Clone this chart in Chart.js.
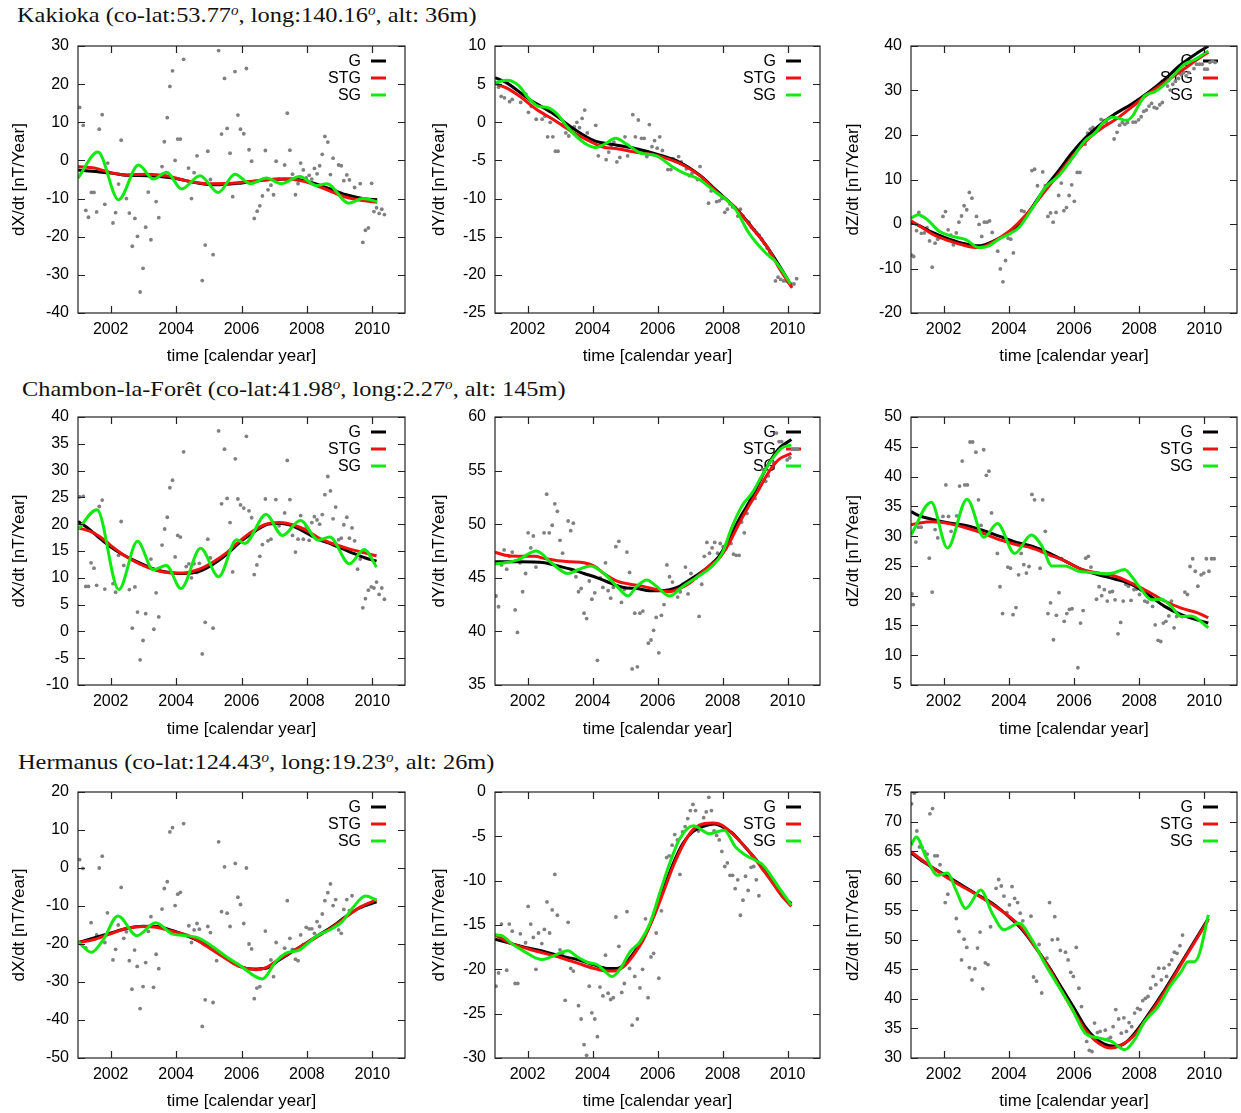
<!DOCTYPE html>
<html>
<head>
<meta charset="utf-8">
<script src="https://cdn.jsdelivr.net/npm/chart.js@4/dist/chart.umd.min.js"></script>
<style>
html,body{margin:0;padding:0;background:#fff;width:1241px;height:1113px;overflow:hidden;position:relative}
.station{position:absolute;font-family:"Liberation Serif","DejaVu Serif",serif;font-size:22px;line-height:22px;color:#111;white-space:nowrap;transform-origin:0 0}
.station sup{font-style:italic;font-size:0.62em;vertical-align:0.55em;line-height:0}
canvas{position:absolute}
</style>
</head>
<body>
<div class="station" id="t0" style="left:17px;top:4px">Kakioka (co-lat:53.77<sup>o</sup>, long:140.16<sup>o</sup>, alt: 36m)</div>
<div class="station" id="t1" style="left:22px;top:378px">Chambon-la-Forêt (co-lat:41.98<sup>o</sup>, long:2.27<sup>o</sup>, alt: 145m)</div>
<div class="station" id="t2" style="left:18px;top:751px">Hermanus (co-lat:124.43<sup>o</sup>, long:19.23<sup>o</sup>, alt: 26m)</div>
<script>
// ---- shared axis labels / legend ----
const yearTicks = [2002, 2004, 2006, 2008, 2010];
const seriesNames = ['G', 'STG', 'SG'];
const seriesColors = ['#000000', '#f01010', '#12e812'];

// ---- Kakioka dX/dt ----
const kakX_ticks = [-40, -30, -20, -10, 0, 10, 20, 30];
const kakX_obs = [[2001.05,13.9],[2001.16,9.2],[2001.24,-13.1],[2001.32,-14.9],[2001.41,-8.4],[2001.49,-8.4],[2001.57,-13.5],[2001.65,8.2],[2001.74,12.0],[2001.82,-11.5],[2001.91,-0.7],[2002.07,-16.4],[2002.15,-13.7],[2002.24,-6.2],[2002.32,5.3],[2002.48,-10.0],[2002.57,-13.8],[2002.66,-22.5],[2002.74,-15.2],[2002.82,-19.9],[2002.90,-34.5],[2002.99,-28.3],[2003.07,-17.5],[2003.15,-8.3],[2003.23,-20.8],[2003.39,-10.8],[2003.47,-15.0],[2003.57,-1.6],[2003.64,4.9],[2003.73,11.2],[2003.81,19.4],[2003.89,23.5],[2003.97,0.0],[2004.05,5.6],[2004.13,5.6],[2004.23,26.5],[2004.38,-2.0],[2004.47,-10.0],[2004.55,-3.2],[2004.64,1.2],[2004.80,-31.5],[2004.89,-22.2],[2004.97,2.4],[2005.05,-5.0],[2005.13,-24.7],[2005.30,28.8],[2005.39,6.9],[2005.48,21.5],[2005.56,8.4],[2005.65,1.9],[2005.73,-9.5],[2005.80,23.3],[2005.89,11.9],[2005.97,8.2],[2006.07,7.0],[2006.15,24.1],[2006.23,2.8],[2006.31,-0.2],[2006.39,-15.2],[2006.48,-13.3],[2006.56,-11.9],[2006.64,-9.3],[2006.73,2.6],[2006.81,-7.7],[2006.90,-6.5],[2006.98,-9.0],[2007.06,-0.2],[2007.15,-4.9],[2007.32,-1.2],[2007.40,12.4],[2007.48,2.7],[2007.56,-3.6],[2007.65,-9.0],[2007.73,-6.1],[2007.81,-0.7],[2007.89,-2.5],[2007.98,-4.6],[2008.07,-3.9],[2008.15,-4.9],[2008.23,-2.1],[2008.31,-3.5],[2008.39,-1.4],[2008.47,1.6],[2008.55,6.3],[2008.64,4.8],[2008.72,-3.7],[2008.80,0.6],[2008.97,-1.2],[2009.05,-1.4],[2009.13,-5.3],[2009.22,-3.8],[2009.30,-5.1],[2009.46,-7.1],[2009.63,-6.1],[2009.71,-21.5],[2009.79,-18.3],[2009.88,-17.7],[2009.98,-6.0],[2010.05,-13.4],[2010.13,-12.4],[2010.21,-13.9],[2010.29,-12.8],[2010.37,-14.2]];
const kakX_G = [[2001.0,-2.5],[2002.0,-3.3],[2002.5,-3.9],[2003.1,-4.0],[2003.9,-4.6],[2004.7,-6.0],[2005.2,-6.4],[2005.9,-6.0],[2006.7,-5.1],[2007.5,-4.9],[2008.0,-5.5],[2008.5,-6.8],[2009.2,-9.0],[2009.8,-10.1],[2010.15,-10.3]];
const kakX_STG = [[2001.0,-1.6],[2001.5,-2.0],[2002.0,-3.2],[2002.5,-3.8],[2003.1,-3.6],[2003.7,-4.0],[2004.3,-5.3],[2005.0,-6.1],[2005.7,-6.0],[2006.5,-5.3],[2007.3,-4.9],[2007.9,-5.5],[2008.5,-7.3],[2009.1,-9.4],[2009.7,-10.5],[2010.15,-11.0]];
const kakX_SG = [[2001.0,-4.6],[2001.61,2.2],[2002.24,-10.3],[2002.85,-1.2],[2003.31,-4.9],[2003.71,-3.1],[2004.17,-7.5],[2004.73,-4.0],[2005.29,-8.4],[2005.8,-3.6],[2006.27,-6.1],[2006.76,-4.6],[2007.22,-6.1],[2007.78,-4.2],[2008.29,-6.6],[2008.61,-6.1],[2009.28,-11.2],[2009.71,-10.0],[2010.15,-10.8]];

// ---- Kakioka dY/dt ----
const kakY_ticks = [-25, -20, -15, -10, -5, 0, 5, 10];
const kakY_obs = [[2001.11,4.6],[2001.19,3.4],[2001.29,3.2],[2001.45,2.7],[2001.53,3.0],[2001.79,2.6],[2001.87,3.8],[2001.95,3.7],[2002.03,1.3],[2002.12,2.1],[2002.27,0.4],[2002.45,0.4],[2002.54,0.8],[2002.62,-1.9],[2002.70,0.0],[2002.78,-1.9],[2002.86,-3.8],[2002.94,-3.8],[2003.10,-0.2],[2003.18,-1.4],[2003.27,-1.8],[2003.36,-0.9],[2003.44,-0.6],[2003.52,0.0],[2003.60,-0.7],[2003.68,0.5],[2003.76,1.6],[2003.84,-1.4],[2004.10,-0.4],[2004.18,-4.4],[2004.26,-3.0],[2004.42,-4.9],[2004.50,-3.9],[2004.58,-3.0],[2004.66,-2.6],[2004.75,-5.2],[2004.84,-4.6],[2005.00,-1.9],[2005.08,-4.4],[2005.24,1.0],[2005.32,-1.9],[2005.41,0.3],[2005.51,-2.1],[2005.59,-2.1],[2005.67,-4.5],[2005.75,-0.3],[2005.83,-3.2],[2005.91,-2.4],[2005.99,-3.4],[2006.07,-1.9],[2006.15,-3.7],[2006.32,-6.2],[2006.41,-6.2],[2006.49,-4.8],[2006.65,-4.5],[2006.73,-5.2],[2006.81,-5.6],[2006.89,-6.1],[2006.98,-7.0],[2007.06,-6.7],[2007.23,-7.5],[2007.31,-5.8],[2007.57,-10.6],[2007.65,-9.0],[2007.73,-8.9],[2007.82,-10.4],[2007.90,-10.3],[2007.98,-10.0],[2008.07,-11.8],[2008.15,-11.4],[2008.23,-10.7],[2008.31,-11.1],[2008.39,-11.2],[2008.47,-12.3],[2008.55,-11.4],[2008.63,-12.3],[2008.81,-13.1],[2008.89,-13.8],[2008.97,-14.1],[2009.05,-14.5],[2009.13,-14.8],[2009.21,-15.3],[2009.29,-15.9],[2009.38,-16.5],[2009.46,-17.1],[2009.54,-17.7],[2009.63,-20.8],[2009.71,-20.3],[2009.79,-20.6],[2009.88,-20.8],[2009.96,-20.8],[2010.04,-21.0],[2010.12,-21.2],[2010.20,-21.2],[2010.28,-20.5]];
const kakY_G = [[2001.0,5.85],[2001.35,5.2],[2002.02,3.1],[2002.73,1.3],[2003.44,-0.9],[2004.05,-2.4],[2004.76,-3.0],[2005.38,-3.5],[2006.0,-4.2],[2006.71,-5.3],[2007.32,-7.0],[2007.83,-9.0],[2008.44,-11.4],[2008.84,-13.4],[2009.35,-16.2],[2009.75,-18.8],[2010.1,-21.3]];
const kakY_STG = [[2001.0,5.1],[2001.35,4.5],[2001.76,3.4],[2002.27,1.7],[2002.78,0.4],[2003.28,-1.0],[2003.79,-2.2],[2004.29,-3.2],[2004.8,-3.5],[2005.3,-3.9],[2005.81,-4.2],[2006.32,-4.8],[2006.83,-5.7],[2007.33,-7.1],[2007.84,-9.2],[2008.35,-11.0],[2008.86,-13.6],[2009.37,-16.3],[2009.77,-19.3],[2010.14,-21.7]];
const kakY_SG = [[2001.0,5.2],[2001.38,5.5],[2001.73,4.8],[2002.02,3.2],[2002.33,2.1],[2002.63,1.9],[2002.93,1.0],[2003.24,-0.7],[2003.75,-2.7],[2004.1,-3.3],[2004.36,-2.9],[2004.71,-2.1],[2005.06,-2.9],[2005.46,-4.0],[2005.97,-4.4],[2006.48,-5.9],[2006.78,-6.6],[2007.29,-7.5],[2007.8,-9.2],[2008.1,-10.1],[2008.4,-11.4],[2008.81,-14.5],[2009.32,-17.1],[2009.62,-18.2],[2010.1,-21.2]];

// ---- Kakioka dZ/dt ----
const kakZ_ticks = [-20, -10, 0, 10, 20, 30, 40];
const kakZ_obs = [[2001.02,-7.0],[2001.08,-7.3],[2001.17,-1.5],[2001.24,2.6],[2001.32,-2.1],[2001.41,-2.0],[2001.49,-0.8],[2001.57,-3.8],[2001.65,-9.7],[2001.74,-4.3],[2001.82,-3.4],[2001.90,-3.0],[2001.98,1.7],[2002.06,2.8],[2002.14,-1.3],[2002.22,-2.5],[2002.30,-4.7],[2002.39,-2.0],[2002.47,0.4],[2002.55,1.8],[2002.63,4.1],[2002.71,3.2],[2002.79,7.1],[2002.87,5.8],[2003.01,1.7],[2003.09,-0.1],[2003.17,-2.8],[2003.25,0.4],[2003.33,0.4],[2003.41,0.7],[2003.49,-1.9],[2003.66,-6.1],[2003.74,-10.1],[2003.82,-13.0],[2003.90,-8.2],[2003.98,-3.2],[2004.06,-3.4],[2004.14,-6.5],[2004.39,3.0],[2004.47,2.8],[2004.55,1.9],[2004.71,12.0],[2004.79,12.3],[2004.88,8.6],[2005.04,11.7],[2005.12,8.6],[2005.20,1.7],[2005.28,2.5],[2005.36,0.4],[2005.45,2.6],[2005.53,6.4],[2005.61,9.2],[2005.69,3.0],[2005.77,3.7],[2005.85,6.4],[2005.93,8.8],[2006.01,5.1],[2006.10,11.6],[2006.18,11.6],[2006.34,17.9],[2006.42,20.4],[2006.50,21.3],[2006.58,21.7],[2006.75,21.3],[2006.83,23.5],[2006.91,23.2],[2006.99,22.9],[2007.23,19.1],[2007.32,20.6],[2007.40,22.2],[2007.48,22.8],[2007.56,22.4],[2007.64,22.8],[2007.81,22.9],[2007.89,22.9],[2007.98,23.4],[2008.06,24.1],[2008.14,25.3],[2008.22,25.6],[2008.30,26.5],[2008.38,27.1],[2008.46,26.2],[2008.54,26.0],[2008.63,26.8],[2008.71,27.3],[2008.87,31.0],[2008.95,30.1],[2009.03,31.4],[2009.11,32.1],[2009.20,32.7],[2009.28,33.6],[2009.36,34.0],[2009.44,33.3],[2009.52,34.0],[2009.68,34.9],[2009.76,35.9],[2009.85,35.9],[2009.93,35.9],[2010.01,34.8],[2010.09,34.8],[2010.17,36.3],[2010.25,36.6],[2010.33,36.3]];
const kakZ_G = [[2001.0,0.4],[2001.26,-0.4],[2001.66,-1.9],[2002.17,-3.4],[2002.68,-4.5],[2003.09,-4.9],[2003.39,-4.3],[2003.7,-3.2],[2004.1,-1.5],[2004.41,0.7],[2004.71,3.7],[2005.12,8.2],[2005.53,12.0],[2005.93,15.9],[2006.34,19.3],[2006.75,22.0],[2007.25,24.7],[2007.76,26.9],[2008.27,29.5],[2008.78,32.5],[2009.29,35.9],[2009.79,38.5],[2010.12,40.0]];
const kakZ_STG = [[2001.0,0.7],[2001.26,-0.4],[2001.66,-2.3],[2002.17,-3.8],[2002.68,-4.9],[2002.99,-5.3],[2003.29,-4.9],[2003.7,-3.2],[2004.1,-1.1],[2004.51,1.9],[2004.92,5.6],[2005.32,9.3],[2005.73,13.1],[2006.14,16.8],[2006.54,19.8],[2006.95,22.0],[2007.36,23.9],[2007.76,26.2],[2008.27,29.2],[2008.78,31.8],[2009.29,34.4],[2009.79,37.0],[2010.12,38.6]];
const kakZ_SG = [[2001.0,1.3],[2001.22,2.1],[2001.48,1.1],[2001.88,-1.7],[2002.28,-2.8],[2002.68,-3.5],[2003.09,-5.3],[2003.39,-4.9],[2003.7,-3.4],[2004.0,-2.3],[2004.31,-0.8],[2004.71,3.4],[2005.12,8.2],[2005.53,10.8],[2005.93,14.6],[2006.34,18.7],[2006.64,20.4],[2006.9,22.8],[2007.2,24.0],[2007.4,23.7],[2007.6,23.3],[2007.8,24.3],[2007.97,26.5],[2008.17,28.8],[2008.47,29.7],[2008.78,31.4],[2009.08,33.6],[2009.39,35.9],[2009.69,36.9],[2010.12,38.9]];

// ---- Chambon-la-Foret dX/dt ----
const chaX_ticks = [-10, -5, 0, 5, 10, 15, 20, 25, 30, 35, 40];
const chaX_obs = [[2001.05,25.1],[2001.16,25.2],[2001.24,8.4],[2001.32,8.4],[2001.40,12.8],[2001.49,11.8],[2001.57,8.6],[2001.65,23.3],[2001.74,24.5],[2001.82,7.9],[2002.07,8.9],[2002.15,7.3],[2002.24,14.2],[2002.32,20.5],[2002.40,12.3],[2002.57,7.8],[2002.66,0.6],[2002.74,8.3],[2002.82,3.6],[2002.90,-5.3],[2002.99,-1.7],[2003.07,3.3],[2003.23,13.5],[2003.32,0.4],[2003.39,7.2],[2003.47,2.7],[2003.57,16.1],[2003.65,19.1],[2003.73,21.3],[2003.81,26.8],[2003.89,28.2],[2003.97,13.9],[2004.05,17.9],[2004.13,17.6],[2004.23,33.5],[2004.31,12.1],[2004.39,12.6],[2004.47,10.0],[2004.55,12.6],[2004.64,11.0],[2004.71,12.7],[2004.80,-4.2],[2004.89,1.7],[2004.97,17.2],[2005.05,13.7],[2005.13,0.6],[2005.30,37.4],[2005.39,23.8],[2005.48,34.0],[2005.56,24.8],[2005.65,20.3],[2005.73,11.1],[2005.81,32.2],[2005.89,24.7],[2005.97,23.6],[2006.07,23.0],[2006.15,36.4],[2006.23,22.5],[2006.31,21.2],[2006.39,10.6],[2006.47,12.4],[2006.56,14.0],[2006.64,16.2],[2006.73,24.7],[2006.81,16.9],[2006.90,17.2],[2007.05,24.6],[2007.15,19.7],[2007.32,22.1],[2007.40,31.9],[2007.48,24.6],[2007.56,17.9],[2007.65,14.8],[2007.73,17.2],[2007.81,21.6],[2007.89,17.2],[2007.98,19.5],[2008.07,17.0],[2008.15,20.3],[2008.23,21.4],[2008.31,20.8],[2008.39,20.0],[2008.47,21.8],[2008.55,25.5],[2008.64,28.9],[2008.72,26.2],[2008.80,21.0],[2008.88,23.2],[2008.97,17.1],[2009.05,17.4],[2009.13,19.9],[2009.22,21.3],[2009.30,17.4],[2009.38,19.3],[2009.46,16.9],[2009.55,11.6],[2009.63,13.5],[2009.71,4.4],[2009.79,6.1],[2009.88,7.7],[2009.97,8.3],[2010.05,8.1],[2010.13,9.2],[2010.21,6.9],[2010.29,8.1],[2010.37,6.0]];
const chaX_G = [[2001.0,20.5],[2001.36,19.0],[2001.66,17.4],[2001.97,15.9],[2002.38,14.3],[2002.88,12.8],[2003.39,11.5],[2003.9,10.9],[2004.21,10.8],[2004.71,11.2],[2005.12,12.5],[2005.53,14.3],[2005.93,16.5],[2006.34,18.4],[2006.75,19.9],[2007.15,20.2],[2007.46,19.9],[2007.76,19.1],[2008.27,17.4],[2008.78,16.2],[2009.29,14.9],[2009.79,13.7],[2010.13,13.1]];
const chaX_STG = [[2001.0,19.3],[2001.36,18.7],[2001.66,17.7],[2001.97,16.2],[2002.38,14.3],[2002.88,12.6],[2003.39,11.4],[2003.9,10.9],[2004.21,10.9],[2004.71,11.6],[2005.12,12.9],[2005.53,14.6],[2005.93,16.8],[2006.34,18.7],[2006.75,20.0],[2007.15,20.3],[2007.56,19.9],[2007.97,18.9],[2008.37,17.4],[2008.78,16.4],[2009.29,15.4],[2009.79,14.6],[2010.13,14.1]];
const chaX_SG = [[2001.0,19.0],[2001.58,22.7],[2002.25,7.8],[2002.82,16.8],[2003.3,11.5],[2003.7,12.3],[2004.15,8.0],[2004.75,15.5],[2005.3,10.2],[2005.85,17.1],[2006.1,16.4],[2006.75,21.8],[2007.25,17.9],[2007.8,20.7],[2008.35,17.0],[2008.7,17.6],[2009.3,12.6],[2009.75,15.3],[2010.13,12.0]];

// ---- Chambon-la-Foret dY/dt ----
const chaY_ticks = [35, 40, 45, 50, 55, 60];
const chaY_obs = [[2001.03,43.3],[2001.11,42.3],[2001.20,46.2],[2001.28,47.6],[2001.36,45.8],[2001.44,47.0],[2001.53,47.4],[2001.62,42.0],[2001.69,39.9],[2001.77,46.4],[2001.85,43.7],[2001.94,45.4],[2002.02,49.2],[2002.10,47.8],[2002.18,48.9],[2002.26,46.0],[2002.51,49.2],[2002.59,52.8],[2002.67,49.2],[2002.76,49.9],[2002.84,51.9],[2002.92,51.2],[2003.00,48.5],[2003.08,47.3],[2003.25,50.3],[2003.33,49.4],[2003.41,50.1],[2003.49,45.1],[2003.57,43.7],[2003.65,44.0],[2003.74,41.7],[2003.82,41.2],[2003.90,44.7],[2003.98,43.0],[2004.07,43.6],[2004.15,37.3],[2004.24,45.0],[2004.32,44.1],[2004.40,46.4],[2004.48,43.8],[2004.56,43.1],[2004.64,44.1],[2004.72,47.9],[2004.81,48.4],[2004.89,42.7],[2004.98,43.9],[2005.06,47.4],[2005.14,45.5],[2005.22,36.5],[2005.30,41.7],[2005.38,36.7],[2005.46,41.7],[2005.55,41.9],[2005.72,38.9],[2005.80,39.2],[2005.88,40.1],[2005.96,41.3],[2006.04,38.0],[2006.12,41.5],[2006.20,42.5],[2006.29,46.2],[2006.37,45.1],[2006.46,44.6],[2006.54,44.0],[2006.62,43.2],[2006.70,43.7],[2006.78,44.4],[2006.86,46.0],[2006.94,43.5],[2007.03,45.4],[2007.11,45.0],[2007.19,45.0],[2007.28,41.4],[2007.36,44.4],[2007.44,47.0],[2007.52,48.3],[2007.60,47.3],[2007.68,47.8],[2007.76,48.3],[2007.85,47.3],[2007.93,48.2],[2008.02,47.9],[2008.10,47.7],[2008.18,48.2],[2008.26,48.2],[2008.34,47.2],[2008.42,47.1],[2008.51,47.1],[2008.59,50.2],[2008.67,49.2],[2008.75,51.0],[2008.84,52.1],[2008.92,52.6],[2009.00,52.4],[2009.08,53.2],[2009.17,54.2],[2009.25,55.1],[2009.33,54.0],[2009.41,54.5],[2009.49,56.0],[2009.57,55.7],[2009.66,58.5],[2009.74,57.7],[2009.82,57.7],[2009.99,56.0],[2010.07,56.2],[2010.15,57.0],[2010.23,57.0],[2010.31,57.0]];
const chaY_G = [[2001.0,46.5],[2001.72,46.5],[2002.53,46.4],[2002.93,46.1],[2003.34,45.8],[2003.74,45.4],[2004.15,45.0],[2004.55,44.5],[2004.96,44.1],[2005.36,44.0],[2005.77,43.8],[2006.07,43.8],[2006.37,43.9],[2006.68,44.2],[2006.98,44.8],[2007.29,45.4],[2007.59,46.1],[2007.89,47.0],[2008.2,48.6],[2008.5,50.4],[2008.81,52.0],[2009.11,53.8],[2009.41,55.6],[2009.72,57.0],[2010.12,57.9]];
const chaY_STG = [[2001.0,47.4],[2001.31,47.1],[2001.72,47.0],[2002.22,47.0],[2002.53,46.8],[2002.93,46.6],[2003.34,46.5],[2003.74,46.4],[2004.05,46.1],[2004.35,45.4],[2004.75,44.7],[2005.16,44.4],[2005.56,44.2],[2005.97,43.9],[2006.37,43.7],[2006.68,44.0],[2006.98,44.5],[2007.29,45.3],[2007.59,46.1],[2007.89,46.8],[2008.2,48.2],[2008.5,50.0],[2008.81,51.7],[2009.11,53.2],[2009.41,54.8],[2009.72,56.0],[2010.12,56.6]];
const chaY_SG = [[2001.0,46.3],[2001.31,46.4],[2001.72,46.7],[2002.27,47.5],[2002.73,46.4],[2003.24,45.4],[2003.59,45.8],[2003.94,46.1],[2004.35,45.4],[2004.75,44.2],[2005.09,43.3],[2005.36,44.2],[2005.67,44.8],[2005.97,44.2],[2006.37,43.3],[2006.78,44.2],[2007.08,44.8],[2007.39,45.4],[2007.69,46.1],[2007.99,47.3],[2008.3,49.8],[2008.6,51.7],[2008.91,52.9],[2009.21,54.5],[2009.51,56.0],[2009.82,57.1],[2010.12,57.4]];

// ---- Chambon-la-Foret dZ/dt ----
const chaZ_ticks = [5, 10, 15, 20, 25, 30, 35, 40, 45, 50];
const chaZ_obs = [[2001.03,20.3],[2001.07,18.5],[2001.15,29.0],[2001.23,31.5],[2001.31,31.5],[2001.56,26.3],[2001.65,20.6],[2001.74,31.1],[2001.82,29.7],[2001.98,33.3],[2002.07,38.6],[2002.15,33.3],[2002.23,30.8],[2002.40,33.4],[2002.49,38.4],[2002.57,42.6],[2002.65,38.6],[2002.73,38.6],[2002.81,45.8],[2002.89,45.8],[2002.99,44.1],[2003.07,36.1],[2003.15,31.8],[2003.23,44.5],[2003.31,40.2],[2003.39,40.9],[2003.47,33.9],[2003.65,27.1],[2003.73,21.5],[2003.81,17.0],[2003.97,24.8],[2004.05,24.6],[2004.13,16.8],[2004.22,18.0],[2004.30,23.5],[2004.38,27.1],[2004.46,25.2],[2004.54,23.8],[2004.62,24.9],[2004.71,37.0],[2004.79,36.1],[2004.96,24.6],[2005.04,36.1],[2005.12,30.8],[2005.20,17.0],[2005.28,18.8],[2005.37,12.6],[2005.46,16.7],[2005.54,20.5],[2005.62,26.2],[2005.70,15.7],[2005.78,17.0],[2005.86,17.7],[2005.94,17.8],[2006.12,7.9],[2006.20,15.4],[2006.28,17.5],[2006.36,26.3],[2006.44,26.6],[2006.52,24.8],[2006.69,19.4],[2006.77,21.5],[2006.85,20.0],[2006.93,21.0],[2007.02,19.1],[2007.10,20.6],[2007.18,20.7],[2007.26,19.3],[2007.35,13.6],[2007.43,15.5],[2007.51,19.1],[2007.59,21.9],[2007.67,21.6],[2007.75,19.2],[2007.84,21.0],[2007.92,21.1],[2008.01,20.2],[2008.09,21.0],[2008.17,19.1],[2008.25,18.9],[2008.33,20.2],[2008.41,18.2],[2008.49,15.1],[2008.58,12.5],[2008.66,12.3],[2008.74,15.4],[2008.82,15.7],[2008.91,16.6],[2008.99,19.1],[2009.07,14.6],[2009.15,16.5],[2009.32,16.5],[2009.40,20.6],[2009.48,20.2],[2009.56,24.9],[2009.64,26.2],[2009.72,24.1],[2009.80,21.6],[2009.90,23.5],[2009.98,23.8],[2010.06,26.2],[2010.14,24.1],[2010.22,26.2],[2010.30,26.2]];
const chaZ_G = [[2001.0,34.1],[2001.26,33.4],[2001.66,32.8],[2002.17,32.2],[2002.68,31.8],[2003.19,31.0],[2003.7,30.0],[2004.21,29.0],[2004.71,28.3],[2005.22,27.2],[2005.73,25.8],[2006.24,24.4],[2006.75,23.5],[2007.25,22.8],[2007.76,21.9],[2008.27,20.2],[2008.78,18.2],[2009.29,16.8],[2009.79,15.9],[2010.12,15.4]];
const chaZ_STG = [[2001.0,31.9],[2001.26,32.2],[2001.66,32.4],[2002.17,32.1],[2002.68,31.4],[2003.19,30.5],[2003.7,29.4],[2004.21,28.6],[2004.71,28.0],[2005.22,26.9],[2005.73,25.8],[2006.24,24.4],[2006.75,23.8],[2007.25,23.3],[2007.76,22.1],[2008.27,20.7],[2008.78,19.1],[2009.29,17.9],[2009.79,17.1],[2010.12,16.3]];
const chaZ_SG = [[2001.0,30.2],[2001.62,35.7],[2002.12,28.0],[2002.72,36.2],[2003.24,29.8],[2003.65,32.1],[2004.18,27.1],[2004.69,30.2],[2005.02,28.3],[2005.32,25.0],[2005.73,25.0],[2006.14,24.1],[2006.54,23.9],[2006.95,23.7],[2007.2,23.8],[2007.55,24.4],[2007.8,23.0],[2008.07,21.0],[2008.37,19.3],[2008.68,19.4],[2008.98,18.2],[2009.29,16.5],[2009.59,16.6],[2010.12,14.6]];

// ---- Hermanus dX/dt ----
const herX_ticks = [-50, -40, -30, -20, -10, 0, 10, 20];
const herX_obs = [[2001.05,2.2],[2001.15,-0.1],[2001.24,-21.0],[2001.40,-14.4],[2001.57,-17.6],[2001.65,0.0],[2001.74,3.1],[2001.82,-19.6],[2001.90,-11.8],[2001.98,-17.2],[2002.07,-24.2],[2002.15,-21.4],[2002.23,-15.0],[2002.32,-5.1],[2002.40,-18.5],[2002.48,-16.8],[2002.57,-24.4],[2002.65,-31.9],[2002.73,-21.6],[2002.81,-25.9],[2002.90,-37.0],[2002.99,-31.2],[2003.07,-24.9],[2003.15,-16.7],[2003.23,-12.8],[2003.31,-31.4],[2003.39,-22.7],[2003.47,-26.5],[2003.57,-10.8],[2003.64,-5.4],[2003.73,-3.6],[2003.81,9.5],[2003.89,10.6],[2003.97,-9.9],[2004.05,-6.9],[2004.13,-6.4],[2004.23,11.7],[2004.39,-15.2],[2004.47,-19.6],[2004.55,-16.3],[2004.64,-14.6],[2004.71,-16.1],[2004.80,-41.7],[2004.89,-34.7],[2004.97,-15.4],[2005.05,-17.0],[2005.13,-35.4],[2005.24,-24.4],[2005.30,6.9],[2005.39,-11.5],[2005.48,0.3],[2005.56,-11.9],[2005.65,-15.4],[2005.73,-24.9],[2005.81,1.2],[2005.89,-7.7],[2005.97,-9.6],[2006.07,-14.6],[2006.15,0.0],[2006.23,-20.0],[2006.31,-21.3],[2006.39,-34.4],[2006.47,-31.6],[2006.56,-31.2],[2006.73,-16.6],[2006.90,-24.2],[2006.98,-28.6],[2007.06,-19.6],[2007.22,-23.3],[2007.32,-21.1],[2007.40,-8.6],[2007.48,-18.5],[2007.56,-21.4],[2007.65,-24.0],[2007.73,-24.4],[2007.81,-17.6],[2007.89,-20.2],[2007.98,-15.6],[2008.07,-16.0],[2008.15,-16.0],[2008.23,-17.2],[2008.31,-14.1],[2008.39,-15.4],[2008.47,-12.1],[2008.55,-8.6],[2008.64,-6.5],[2008.72,-4.2],[2008.80,-9.9],[2008.88,-8.3],[2008.97,-16.3],[2009.05,-17.2],[2009.13,-10.9],[2009.22,-8.3],[2009.30,-11.2],[2009.38,-7.3]];
const herX_G = [[2001.0,-19.6],[2001.46,-18.5],[2001.97,-17.2],[2002.48,-15.9],[2002.99,-15.3],[2003.39,-15.4],[2003.9,-16.5],[2004.41,-18.1],[2004.92,-20.2],[2005.42,-23.1],[2005.93,-25.8],[2006.34,-26.6],[2006.75,-26.4],[2007.15,-24.2],[2007.56,-22.0],[2007.97,-19.8],[2008.37,-17.6],[2008.78,-15.4],[2009.18,-12.8],[2009.59,-10.6],[2010.13,-8.9]];
const herX_STG = [[2001.0,-19.6],[2001.46,-18.9],[2001.97,-17.4],[2002.48,-15.9],[2002.99,-15.4],[2003.39,-15.6],[2003.9,-16.7],[2004.41,-17.9],[2004.92,-20.5],[2005.42,-23.3],[2005.93,-25.9],[2006.44,-26.8],[2006.75,-26.2],[2007.15,-24.0],[2007.56,-21.9],[2007.97,-19.9],[2008.37,-17.8],[2008.78,-15.6],[2009.18,-13.0],[2009.59,-10.5],[2010.13,-8.4]];
const herX_SG = [[2001.0,-19.4],[2001.41,-22.2],[2001.77,-18.9],[2002.22,-12.6],[2002.8,-17.8],[2003.37,-14.4],[2003.9,-17.4],[2004.31,-17.8],[2004.71,-18.5],[2005.12,-20.7],[2005.53,-23.3],[2005.93,-25.5],[2006.64,-29.2],[2007.05,-24.6],[2007.36,-22.4],[2007.76,-21.6],[2008.27,-18.1],[2008.78,-15.9],[2009.08,-14.1],[2009.39,-10.6],[2009.79,-7.4],[2010.13,-8.4]];

// ---- Hermanus dY/dt ----
const herY_ticks = [-30, -25, -20, -15, -10, -5, 0];
const herY_obs = [[2001.03,-21.9],[2001.11,-20.4],[2001.20,-14.9],[2001.36,-20.1],[2001.44,-14.9],[2001.53,-15.7],[2001.62,-21.6],[2001.70,-21.6],[2001.78,-16.0],[2001.94,-17.0],[2002.02,-12.9],[2002.10,-14.9],[2002.18,-16.4],[2002.26,-20.0],[2002.34,-15.9],[2002.44,-17.1],[2002.52,-15.5],[2002.60,-12.4],[2002.68,-15.9],[2002.76,-13.3],[2002.84,-9.3],[2002.92,-13.9],[2003.00,-17.8],[2003.08,-18.2],[2003.16,-23.5],[2003.25,-14.7],[2003.33,-19.9],[2003.41,-20.2],[2003.57,-24.1],[2003.65,-25.6],[2003.74,-28.5],[2003.82,-29.7],[2003.90,-21.9],[2003.98,-24.9],[2004.07,-25.6],[2004.15,-27.6],[2004.23,-22.0],[2004.32,-23.0],[2004.40,-18.4],[2004.48,-22.7],[2004.56,-23.4],[2004.64,-23.2],[2004.72,-14.1],[2004.81,-17.4],[2004.90,-22.6],[2004.98,-21.6],[2005.06,-13.5],[2005.14,-19.9],[2005.22,-26.3],[2005.30,-20.8],[2005.38,-25.6],[2005.46,-22.1],[2005.54,-20.0],[2005.63,-14.3],[2005.71,-23.2],[2005.80,-18.6],[2005.88,-18.2],[2005.96,-15.9],[2006.04,-21.0],[2006.12,-13.4],[2006.28,-7.4],[2006.36,-7.2],[2006.45,-6.0],[2006.53,-4.8],[2006.61,-5.4],[2006.69,-9.3],[2006.77,-4.5],[2006.85,-3.9],[2006.93,-3.0],[2007.01,-2.1],[2007.09,-1.4],[2007.17,-2.1],[2007.26,-4.4],[2007.34,-3.9],[2007.42,-2.9],[2007.50,-2.25],[2007.58,-0.6],[2007.66,-2.1],[2007.74,-4.4],[2007.82,-4.9],[2007.90,-5.4],[2007.98,-6.7],[2008.07,-8.4],[2008.15,-8.0],[2008.23,-9.4],[2008.31,-9.4],[2008.39,-10.9],[2008.47,-9.9],[2008.55,-13.9],[2008.63,-12.2],[2008.71,-9.5],[2008.79,-11.1],[2008.88,-8.5],[2008.96,-8.4],[2009.04,-9.9],[2009.12,-11.7]];
const herY_G = [[2001.0,-16.6],[2001.51,-17.1],[2002.02,-17.6],[2002.53,-18.0],[2003.03,-18.5],[2003.54,-18.9],[2004.05,-19.5],[2004.45,-19.9],[2004.75,-19.9],[2004.96,-19.5],[2005.26,-18.2],[2005.56,-16.5],[2005.87,-14.1],[2006.17,-11.1],[2006.48,-8.1],[2006.78,-5.8],[2007.08,-4.5],[2007.39,-3.9],[2007.75,-3.6],[2007.99,-3.9],[2008.3,-4.6],[2008.6,-5.8],[2008.91,-7.1],[2009.21,-8.4],[2009.51,-9.9],[2009.82,-11.6],[2010.12,-12.6]];
const herY_STG = [[2001.0,-16.1],[2001.51,-17.1],[2002.02,-17.7],[2002.53,-18.2],[2003.03,-18.7],[2003.54,-19.3],[2004.05,-19.9],[2004.45,-20.2],[2004.65,-20.2],[2004.96,-19.7],[2005.26,-18.4],[2005.56,-16.7],[2005.87,-14.2],[2006.17,-11.4],[2006.48,-8.4],[2006.78,-6.0],[2007.08,-4.3],[2007.39,-3.6],[2007.72,-3.5],[2007.99,-3.75],[2008.3,-4.7],[2008.6,-5.8],[2008.91,-7.1],[2009.21,-8.6],[2009.51,-10.1],[2009.82,-11.7],[2010.12,-12.9]];
const herY_SG = [[2001.0,-16.1],[2001.21,-16.2],[2001.51,-17.1],[2001.82,-17.8],[2002.43,-18.9],[2002.73,-18.6],[2003.24,-17.9],[2003.54,-18.6],[2003.84,-19.2],[2004.15,-19.5],[2004.35,-20.1],[2004.6,-20.8],[2004.86,-19.9],[2005.16,-18.0],[2005.46,-16.9],[2005.77,-14.8],[2006.07,-11.4],[2006.37,-8.1],[2006.68,-5.3],[2007.1,-3.8],[2007.6,-4.7],[2008.05,-4.3],[2008.4,-6.2],[2008.7,-7.1],[2009.01,-7.7],[2009.21,-8.1],[2009.41,-9.0],[2009.72,-10.7],[2010.12,-12.75]];

// ---- Hermanus dZ/dt ----
const herZ_ticks = [30, 35, 40, 45, 50, 55, 60, 65, 70, 75];
const herZ_obs = [[2001.02,73.0],[2001.10,74.8],[2001.18,68.4],[2001.26,65.7],[2001.34,65.6],[2001.42,64.9],[2001.50,64.5],[2001.58,71.3],[2001.66,72.2],[2001.73,64.2],[2001.81,64.2],[2001.89,62.7],[2001.97,61.2],[2002.05,56.3],[2002.13,57.7],[2002.39,53.6],[2002.47,51.4],[2002.55,46.6],[2002.63,50.1],[2002.71,48.7],[2002.79,45.3],[2002.87,43.2],[2002.96,45.1],[2003.04,48.6],[2003.12,51.3],[2003.20,41.7],[2003.28,46.1],[2003.36,45.8],[2003.44,52.2],[2003.61,58.7],[2003.69,60.2],[2003.77,59.1],[2003.85,57.4],[2003.94,54.6],[2004.02,55.9],[2004.10,59.0],[2004.18,57.0],[2004.27,56.3],[2004.35,54.5],[2004.43,53.2],[2004.68,54.0],[2004.76,43.7],[2004.85,43.0],[2004.93,49.2],[2005.01,41.0],[2005.17,46.9],[2005.25,56.3],[2005.33,50.0],[2005.41,53.9],[2005.50,50.1],[2005.58,48.2],[2005.74,47.9],[2005.82,46.6],[2005.90,44.5],[2005.98,43.8],[2006.07,48.7],[2006.15,41.8],[2006.23,38.7],[2006.31,35.1],[2006.39,32.8],[2006.47,31.3],[2006.55,31.1],[2006.63,35.9],[2006.72,34.3],[2006.80,34.5],[2006.96,34.7],[2007.04,33.2],[2007.12,33.5],[2007.20,35.3],[2007.28,38.2],[2007.37,36.6],[2007.45,34.2],[2007.53,36.8],[2007.61,34.5],[2007.69,36.0],[2007.77,35.3],[2007.86,37.6],[2007.95,38.4],[2008.03,38.2],[2008.11,39.7],[2008.19,40.1],[2008.27,40.4],[2008.35,41.8],[2008.43,43.8],[2008.51,42.4],[2008.60,45.2],[2008.68,43.2],[2008.76,45.2],[2008.84,43.8],[2008.92,45.8],[2009.00,46.6],[2009.08,47.9],[2009.16,47.7],[2009.25,49.0],[2009.33,50.8]];
const herZ_G = [[2001.0,64.7],[2001.46,62.9],[2001.97,61.2],[2002.48,59.5],[2002.99,57.8],[2003.49,56.2],[2004.0,53.9],[2004.41,51.7],[2004.81,48.8],[2005.22,45.5],[2005.63,41.8],[2006.03,38.2],[2006.34,35.3],[2006.64,33.4],[2006.95,32.3],[2007.25,32.0],[2007.56,32.5],[2007.86,34.2],[2008.17,36.5],[2008.78,41.5],[2009.39,47.0],[2010.12,53.6]];
const herZ_STG = [[2001.0,64.9],[2001.46,63.0],[2001.97,61.0],[2002.48,59.3],[2002.99,57.7],[2003.49,56.0],[2004.0,54.0],[2004.41,51.9],[2004.81,48.8],[2005.22,45.3],[2005.63,41.3],[2006.03,37.5],[2006.34,34.8],[2006.64,33.0],[2006.95,31.9],[2007.15,31.7],[2007.46,32.2],[2007.86,33.9],[2008.17,36.2],[2008.78,41.2],[2009.39,46.8],[2010.12,53.4]];
const herZ_SG = [[2001.0,66.0],[2001.16,67.4],[2001.46,64.0],[2001.82,60.9],[2002.12,61.3],[2002.38,58.4],[2002.68,55.3],[2003.14,58.4],[2003.49,54.5],[2003.85,51.7],[2004.31,52.8],[2004.71,50.0],[2005.12,45.8],[2005.53,42.1],[2005.93,38.4],[2006.34,34.2],[2006.75,33.4],[2007.15,32.8],[2007.56,31.4],[2007.86,33.1],[2008.17,36.2],[2008.58,38.7],[2008.98,42.4],[2009.29,44.6],[2009.49,46.3],[2009.69,46.3],[2009.85,47.7],[2010.12,54.2]];

// ---- panel layout ----
const colGeom = [
  {left: 0,   width: 412, axisW: 78, padR: 7, titlePad: 9},
  {left: 415, width: 412, axisW: 80, padR: 7, titlePad: 14},
  {left: 830, width: 411, axisW: 81, padR: 3, titlePad: 13}
];
const rowGeom = [
  {top: 36,  height: 340, axisH: 63, titlePad: 9},
  {top: 407, height: 340, axisH: 62, titlePad: 7},
  {top: 782, height: 331, axisH: 55, titlePad: 1}
];

const panels = [
  {row:0, col:0, obs:kakX_obs, g:kakX_G, stg:kakX_STG, sg:kakX_SG, ticks:kakX_ticks, yTitle:'dX/dt [nT/Year]'},
  {row:0, col:1, obs:kakY_obs, g:kakY_G, stg:kakY_STG, sg:kakY_SG, ticks:kakY_ticks, yTitle:'dY/dt [nT/Year]'},
  {row:0, col:2, obs:kakZ_obs, g:kakZ_G, stg:kakZ_STG, sg:kakZ_SG, ticks:kakZ_ticks, yTitle:'dZ/dt [nT/Year]'},
  {row:1, col:0, obs:chaX_obs, g:chaX_G, stg:chaX_STG, sg:chaX_SG, ticks:chaX_ticks, yTitle:'dX/dt [nT/Year]'},
  {row:1, col:1, obs:chaY_obs, g:chaY_G, stg:chaY_STG, sg:chaY_SG, ticks:chaY_ticks, yTitle:'dY/dt [nT/Year]'},
  {row:1, col:2, obs:chaZ_obs, g:chaZ_G, stg:chaZ_STG, sg:chaZ_SG, ticks:chaZ_ticks, yTitle:'dZ/dt [nT/Year]'},
  {row:2, col:0, obs:herX_obs, g:herX_G, stg:herX_STG, sg:herX_SG, ticks:herX_ticks, yTitle:'dX/dt [nT/Year]'},
  {row:2, col:1, obs:herY_obs, g:herY_G, stg:herY_STG, sg:herY_SG, ticks:herY_ticks, yTitle:'dY/dt [nT/Year]'},
  {row:2, col:2, obs:herZ_obs, g:herZ_G, stg:herZ_STG, sg:herZ_SG, ticks:herZ_ticks, yTitle:'dZ/dt [nT/Year]'}
];

const FONT = '"Liberation Sans", Arial, Helvetica, sans-serif';
Chart.defaults.font.family = FONT;
Chart.defaults.color = '#000';

// station headings: stretch each to its line width
const titleWidths = [459, 543, 476];
titleWidths.forEach((w, i) => {
  const el = document.getElementById('t' + i);
  el.style.transform = 'scaleX(' + (w / el.offsetWidth) + ')';
});

// gnuplot-like frame with inward ticks on all four sides, and the key
const framePlugin = {
  id: 'gpFrame',
  beforeDatasetsDraw(chart) {
    const {ctx, chartArea: a} = chart;
    ctx.save();
    ctx.font = '16px ' + FONT;
    ctx.textAlign = 'right';
    ctx.textBaseline = 'middle';
    seriesNames.forEach((name, i) => {
      const y = a.top + 15 + 17 * i;
      ctx.fillStyle = '#000';
      ctx.fillText(name, a.right - 44, y + 1);
      ctx.strokeStyle = seriesColors[i];
      ctx.lineWidth = 3;
      ctx.beginPath();
      ctx.moveTo(a.right - 34, y);
      ctx.lineTo(a.right - 19, y);
      ctx.stroke();
    });
    ctx.restore();
  },
  afterDraw(chart) {
    const {ctx, chartArea: a, scales} = chart;
    const t = 7;
    ctx.save();
    ctx.strokeStyle = '#222';
    ctx.lineWidth = 1.2;
    ctx.strokeRect(a.left, a.top, a.right - a.left, a.bottom - a.top);
    ctx.beginPath();
    scales.x.ticks.forEach(tk => {
      const x = Math.round(scales.x.getPixelForValue(tk.value)) + 0.5;
      ctx.moveTo(x, a.bottom); ctx.lineTo(x, a.bottom - t);
      ctx.moveTo(x, a.top); ctx.lineTo(x, a.top + t);
    });
    scales.y.ticks.forEach(tk => {
      const y = Math.round(scales.y.getPixelForValue(tk.value)) + 0.5;
      ctx.moveTo(a.left, y); ctx.lineTo(a.left + t, y);
      ctx.moveTo(a.right, y); ctx.lineTo(a.right - t, y);
    });
    ctx.stroke();
    ctx.restore();
  }
};

const toXY = arr => arr.map(p => ({x: p[0], y: p[1]}));
const lineSet = (label, data, color, order) => ({
  type: 'line', label, data: toXY(data), borderColor: color, backgroundColor: color,
  borderWidth: 3, pointRadius: 0, cubicInterpolationMode: 'monotone', order, fill: false
});

panels.forEach(p => {
  const c = colGeom[p.col], r = rowGeom[p.row];
  const cv = document.createElement('canvas');
  cv.width = c.width; cv.height = r.height;
  cv.style.left = c.left + 'px'; cv.style.top = r.top + 'px';
  cv.style.width = c.width + 'px'; cv.style.height = r.height + 'px';
  document.body.appendChild(cv);

  new Chart(cv, {
    type: 'line',
    data: {
      datasets: [
        lineSet(seriesNames[2], p.sg, seriesColors[2], 0),
        lineSet(seriesNames[1], p.stg, seriesColors[1], 1),
        lineSet(seriesNames[0], p.g, seriesColors[0], 2),
        {type: 'scatter', label: 'obs', data: toXY(p.obs), pointRadius: 1.9,
         pointBackgroundColor: '#808080', pointBorderWidth: 0, showLine: false, order: 3}
      ]
    },
    options: {
      responsive: false,
      animation: false,
      devicePixelRatio: 1,
      layout: {padding: {top: 10, right: c.padR, bottom: 0, left: 0}},
      plugins: {legend: {display: false}, tooltip: {enabled: false}},
      scales: {
        x: {
          type: 'linear', min: 2001, max: 2011,
          afterBuildTicks: s => { s.ticks = yearTicks.map(v => ({value: v})); },
          afterFit: s => { s.height = r.axisH; s.paddingLeft = 0; s.paddingRight = 0; },
          grid: {display: false, drawTicks: false}, border: {display: false},
          ticks: {padding: 7, font: {size: 16}, color: '#000', maxRotation: 0, autoSkip: false,
                  callback: v => String(v)},
          title: {display: true, text: 'time [calendar year]', color: '#000',
                  font: {size: 17}, padding: {top: 0, bottom: r.titlePad}}
        },
        y: {
          type: 'linear', min: p.ticks[0], max: p.ticks[p.ticks.length - 1],
          afterBuildTicks: s => { s.ticks = p.ticks.map(v => ({value: v})); },
          afterFit: s => { s.width = c.axisW; s.paddingTop = 0; s.paddingBottom = 0; },
          grid: {display: false, drawTicks: false}, border: {display: false},
          ticks: {padding: 9, font: {size: 16}, color: '#000', autoSkip: false,
                  callback: v => String(v)},
          title: {display: true, text: p.yTitle, color: '#000',
                  font: {size: 17}, padding: {top: c.titlePad, bottom: 0}}
        }
      }
    },
    plugins: [framePlugin]
  });
});
</script>
</body>
</html>
